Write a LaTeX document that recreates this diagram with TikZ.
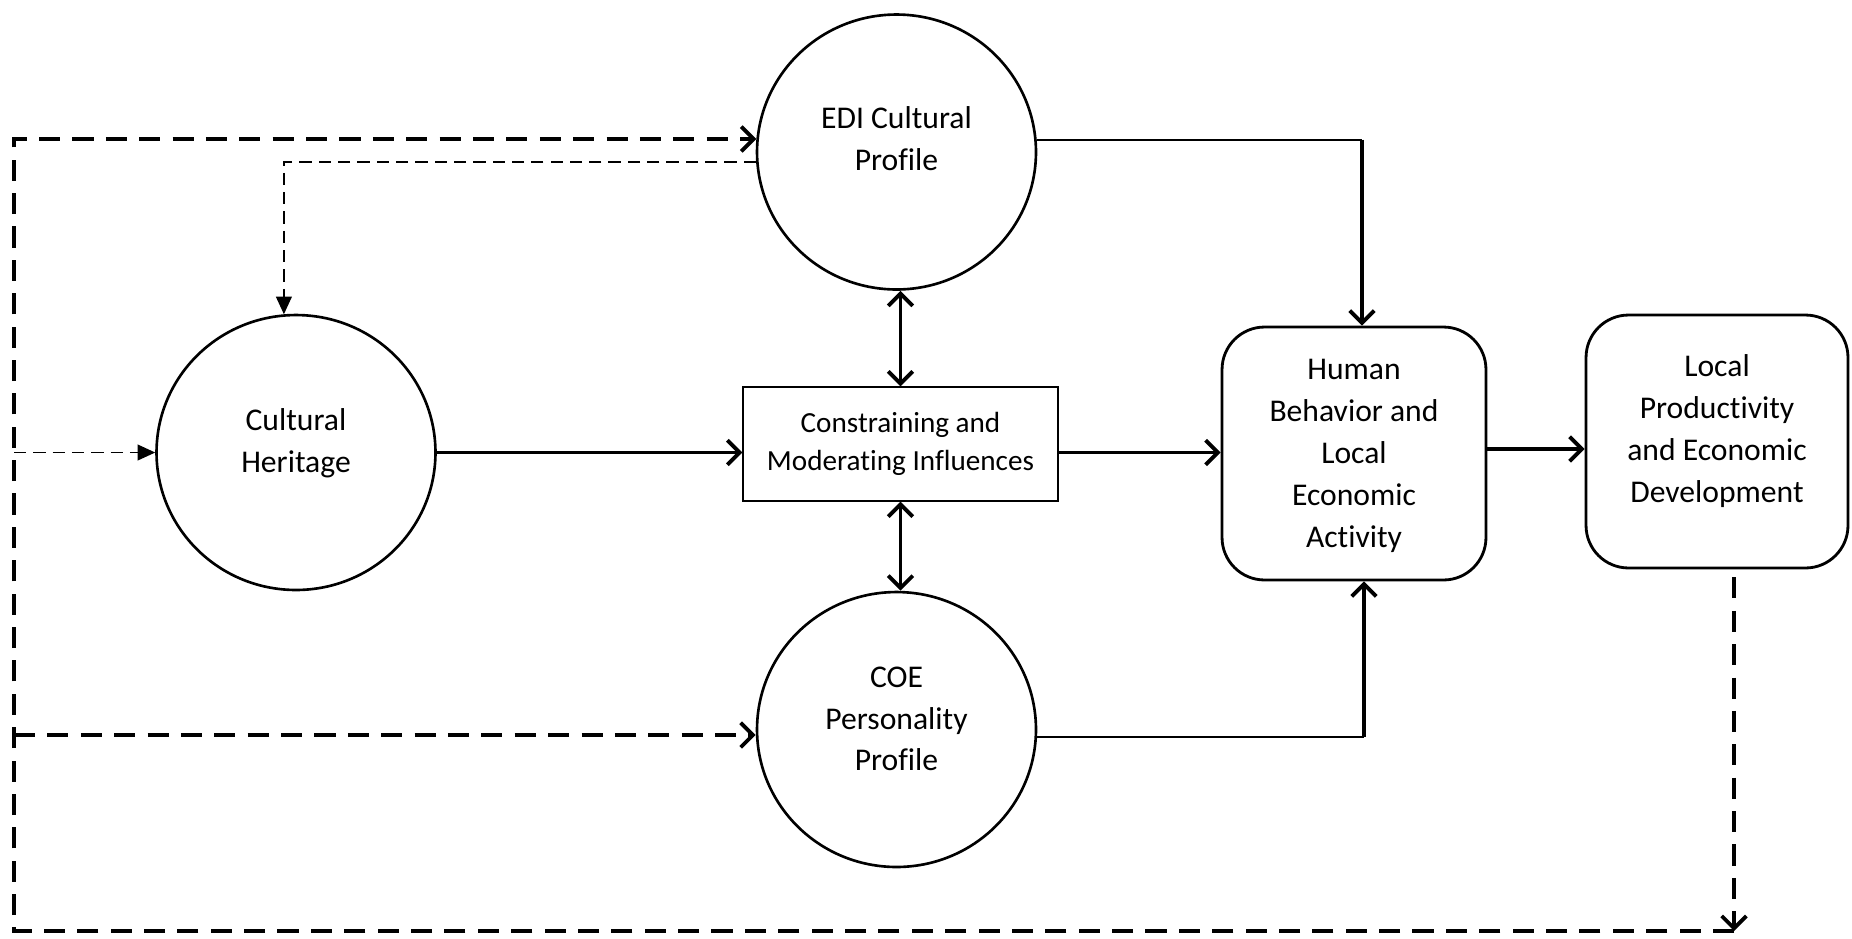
\documentclass[tikz,border=0pt]{standalone}
\usepackage{fontspec}
\setmainfont{Carlito}[Ligatures=NoCommon]
\usetikzlibrary{arrows.meta,shapes.geometric,calc}
\begin{document}
\begin{tikzpicture}[x=0.02cm,y=-0.02cm,
  circ/.style={ellipse,draw,line width=1.5pt,inner sep=0pt,minimum width=5.58cm,minimum height=5.5cm},
  rbox/.style={draw,rounded corners=0.85cm,line width=1.6pt,minimum width=#1,minimum height=5.06cm,inner sep=0pt},
  lbl/.style={align=center,font=\fontsize{18}{23.8}\selectfont},
  rect/.style={draw,line width=0.7pt,minimum width=6.3cm,minimum height=2.28cm,inner sep=0pt,align=center,font=\fontsize{16.6}{21.5}\selectfont},
  barb/.tip={Straight Barb[length=7pt,width=14pt]},
  solidarrow/.style={line width=2.2pt,-barb},
  dbl/.style={line width=2.2pt,barb-barb},
  thinline/.style={line width=0.9pt},
  bigdash/.style={line width=2.2pt,dash pattern=on 12pt off 7pt},
  smalldash/.style={line width=0.8pt,dash pattern=on 7pt off 4pt,-{Triangle[length=10pt,width=9pt]}}
]
\useasboundingbox (0,0) rectangle (1852,938);

% shapes
\node[circ] (edi) at (896.5,152) {};
\node[circ] (ch) at (296,452.5) {};
\node[circ] (coe) at (896.5,729.5) {};
\node[rect] (box) at (900.5,444) {Constraining and\\Moderating Influences};
\node[rbox=5.28cm] (hb) at (1354,453.5) {};
\node[rbox=5.24cm] (lp) at (1717,441.5) {};

% texts
\node[lbl] (edit) at (896.5,139) {EDI Cultural\\Profile};
\node[lbl] (cht) at (296,443) {Cultural\\Heritage};
\node[lbl] (coet) at (896.5,719) {COE\\Personality\\Profile};
\node[lbl] (hbt) at (1354,456) {Human\\Behavior and\\Local\\Economic\\Activity};
\node[lbl] (lpt) at (1717,431) {Local\\Productivity\\and Economic\\Development};

% solid connectors
\draw[solidarrow] (ch.east) -- (ch.east -| box.west);
\draw[solidarrow] (box.east |- ch.east) -- (hb.west |- ch.east);
\draw[solidarrow] (hb.east |- 0,449) -- (lp.west |- 0,449);
\draw[dbl] (edi.south -| box.north) -- (box.north);
\draw[dbl] (box.south) -- (coe.north -| box.south);
\coordinate (ec) at ($(edi.5 -| hb.north)+(8,0)$);
\draw[thinline] (edi.5) -- (ec);
\draw[solidarrow] (ec) -- (ec |- hb.north);
\coordinate (cc) at ($(coe.357 -| hb.south)+(10,0)$);
\draw[thinline] (coe.357) -- (cc);
\draw[solidarrow] (cc) -- (cc |- hb.south);

% dashed connectors
\draw[smalldash] (edi.184) -| (ch.95);
\coordinate (lb) at (1734,931);
\coordinate (bl) at (14,931);
\coordinate (tl) at (14,139);
\draw[bigdash,-barb] ($(lp.south -| lb)+(0,8)$) -- (lb);
\draw[bigdash,-barb] (lb) -- (bl) -- (tl) -- (tl -| edi.175);
\draw[smalldash] (tl |- ch.west) -- (ch.west);
\draw[bigdash,-barb] (tl |- 0,735) -- (coe.west |- 0,735);
\end{tikzpicture}
\end{document}
